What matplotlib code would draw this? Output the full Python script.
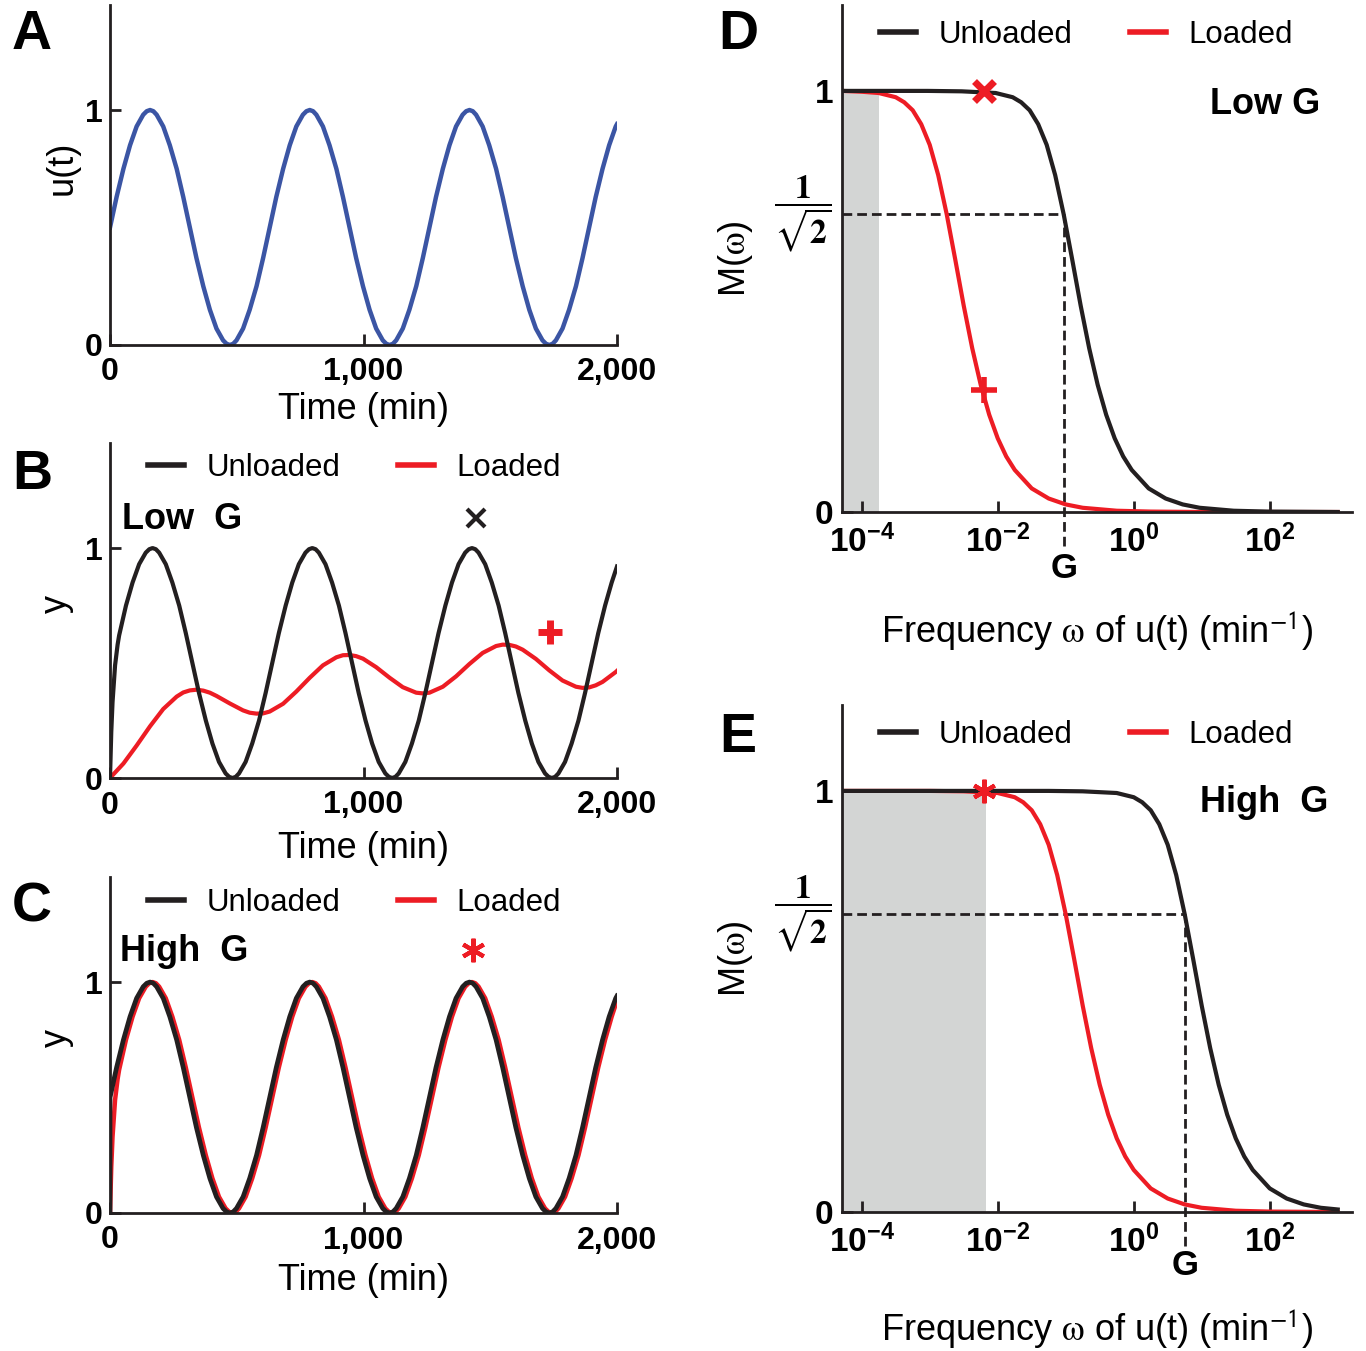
import numpy as np
import matplotlib
matplotlib.use("Agg")
import matplotlib.pyplot as plt

plt.rcParams['font.family'] = ['Liberation Sans', 'DejaVu Sans']
plt.rcParams['mathtext.fontset'] = 'custom'
plt.rcParams['mathtext.rm'] = 'Liberation Sans'
plt.rcParams['mathtext.bf'] = 'Liberation Sans:bold'
plt.rcParams['mathtext.it'] = 'Liberation Sans:italic'
plt.rcParams['mathtext.sf'] = 'Liberation Sans'

# ---- data ----
# A: input u(t)
t_u = [0, 26, 53, 79, 105, 131, 145, 158, 171, 184, 210, 236, 263, 289,
       315, 341, 368, 394, 420, 446, 460, 473, 486, 499, 525, 551, 578, 604,
       630, 656, 683, 709, 735, 761, 775, 788, 801, 814, 840, 866, 893, 919,
       945, 971, 998, 1024, 1050, 1076, 1090, 1103, 1116, 1129, 1155, 1181, 1208, 1234,
       1260, 1286, 1313, 1339, 1365, 1391, 1405, 1418, 1431, 1444, 1470, 1496, 1523, 1549,
       1575, 1601, 1628, 1654, 1680, 1706, 1720, 1733, 1746, 1759, 1785, 1811, 1838, 1864,
       1890, 1916, 1943, 1969, 1995, 2000]
u_vals = [0.50, 0.63, 0.75, 0.85, 0.93, 0.98, 0.995, 1.00, 0.995, 0.98, 0.93, 0.85, 0.75, 0.63,
          0.50, 0.37, 0.25, 0.15, 0.07, 0.02, 0.005, 0.00, 0.005, 0.02, 0.07, 0.15, 0.25, 0.37,
          0.50, 0.63, 0.75, 0.85, 0.93, 0.98, 0.995, 1.00, 0.995, 0.98, 0.93, 0.85, 0.75, 0.63,
          0.50, 0.37, 0.25, 0.15, 0.07, 0.02, 0.005, 0.00, 0.005, 0.02, 0.07, 0.15, 0.25, 0.37,
          0.50, 0.63, 0.75, 0.85, 0.93, 0.98, 0.995, 1.00, 0.995, 0.98, 0.93, 0.85, 0.75, 0.63,
          0.50, 0.37, 0.25, 0.15, 0.07, 0.02, 0.005, 0.00, 0.005, 0.02, 0.07, 0.15, 0.25, 0.37,
          0.50, 0.63, 0.75, 0.85, 0.93, 0.94]

# B: low G
tB_unloaded = [0, 5, 10, 20, 30,
               36, 63, 89, 115, 141, 155, 168, 181, 194, 220, 246, 273, 299,
               325, 351, 378, 404, 430, 456, 470, 483, 496, 509, 535, 561, 588, 614,
               640, 666, 693, 719, 745, 771, 785, 798, 811, 824, 850, 876, 903, 929,
               955, 981, 1008, 1034, 1060, 1086, 1100, 1113, 1126, 1139, 1165, 1191, 1218, 1244,
               1270, 1296, 1323, 1349, 1375, 1401, 1415, 1428, 1441, 1454, 1480, 1506, 1533, 1559,
               1585, 1611, 1638, 1664, 1690, 1716, 1730, 1743, 1756, 1769, 1795, 1821, 1848, 1874,
               1900, 1926, 1953, 1979, 2000]
yB_unloaded = [0.00, 0.20, 0.33, 0.49, 0.58,
               0.62, 0.75, 0.85, 0.93, 0.98, 0.995, 1.00, 0.995, 0.98, 0.93, 0.85, 0.75, 0.63,
               0.50, 0.37, 0.25, 0.15, 0.07, 0.02, 0.005, 0.00, 0.005, 0.02, 0.07, 0.15, 0.25, 0.37,
               0.50, 0.63, 0.75, 0.85, 0.93, 0.98, 0.995, 1.00, 0.995, 0.98, 0.93, 0.85, 0.75, 0.63,
               0.50, 0.37, 0.25, 0.15, 0.07, 0.02, 0.005, 0.00, 0.005, 0.02, 0.07, 0.15, 0.25, 0.37,
               0.50, 0.63, 0.75, 0.85, 0.93, 0.98, 0.995, 1.00, 0.995, 0.98, 0.93, 0.85, 0.75, 0.63,
               0.50, 0.37, 0.25, 0.15, 0.07, 0.02, 0.005, 0.00, 0.005, 0.02, 0.07, 0.15, 0.25, 0.37,
               0.50, 0.63, 0.75, 0.85, 0.92]
tB_loaded = [0, 53, 105, 158, 210, 263, 289, 315, 341, 368, 394, 420,
             473, 525, 551, 578, 604, 630, 683, 735, 788, 840, 893, 919,
             945, 971, 998, 1050, 1103, 1155, 1208, 1234, 1260, 1313, 1365, 1418,
             1470, 1523, 1549, 1575, 1601, 1628, 1680, 1733, 1785, 1838, 1864, 1890,
             1916, 1943, 1995, 2000]
yB_loaded = [0.000, 0.063, 0.141, 0.225, 0.300, 0.354, 0.372, 0.381, 0.384, 0.380, 0.371, 0.357,
             0.324, 0.294, 0.284, 0.280, 0.281, 0.289, 0.323, 0.376, 0.436, 0.490, 0.525, 0.534,
             0.535, 0.530, 0.519, 0.482, 0.436, 0.395, 0.371, 0.368, 0.371, 0.397, 0.442, 0.496,
             0.544, 0.574, 0.580, 0.579, 0.572, 0.558, 0.518, 0.468, 0.424, 0.397, 0.392, 0.394,
             0.403, 0.418, 0.461, 0.466]

# C: high G (unloaded jumps from 0 onto u(t); loaded trace lags like B's unloaded one)
tC_unloaded = [0] + t_u
yC_unloaded = [0.0] + u_vals
tC_loaded = list(tB_unloaded)
yC_loaded = list(yB_unloaded)

# D / E: magnitude of frequency response, log10(omega)
logw_D_unloaded = [-4.29, -3.03, -2.53, -2.03, -1.78, -1.655, -1.53, -1.405, -1.28, -1.155,
                   -1.03, -0.905, -0.78, -0.655, -0.53, -0.405, -0.28, -0.155, -0.03, 0.22,
                   0.47, 0.72, 0.97, 1.47, 1.97, 3.0]
M_D_unloaded = [1.0, 1.0, 0.999, 0.995, 0.985, 0.973, 0.954, 0.921, 0.872, 0.800,
                0.707, 0.600, 0.490, 0.389, 0.302, 0.231, 0.175, 0.132, 0.100, 0.056,
                0.032, 0.018, 0.010, 0.003, 0.001, 0.0]
logw_D_loaded = [-4.29, -4.0, -3.75, -3.5, -3.375, -3.25, -3.125, -3.0, -2.875, -2.75,
                 -2.625, -2.5, -2.375, -2.25, -2.125, -2.0, -1.875, -1.75, -1.5, -1.25,
                 -1.0, -0.75, -0.25, 0.25, 1.0, 3.0]
M_D_loaded = [1.0, 0.998, 0.995, 0.985, 0.973, 0.954, 0.921, 0.872, 0.800, 0.707,
              0.600, 0.490, 0.389, 0.302, 0.231, 0.175, 0.132, 0.100, 0.056, 0.032,
              0.018, 0.010, 0.003, 0.001, 0.0, 0.0]
logw_E_unloaded = [-4.29, -1.25, -0.75, -0.25, 0.0, 0.125, 0.25, 0.375, 0.5, 0.625,
                   0.75, 0.875, 1.0, 1.125, 1.25, 1.375, 1.5, 1.625, 1.75, 2.0,
                   2.25, 2.5, 2.75, 3.0]
M_E_unloaded = [1.0, 1.0, 0.999, 0.995, 0.985, 0.973, 0.954, 0.921, 0.872, 0.800,
                0.707, 0.600, 0.490, 0.389, 0.302, 0.231, 0.175, 0.132, 0.100, 0.056,
                0.032, 0.018, 0.010, 0.006]
logw_E_loaded = [-4.29, -3.0, -2.5, -2.0, -1.75, -1.625, -1.5, -1.375, -1.25, -1.125,
                 -1.0, -0.875, -0.75, -0.625, -0.5, -0.375, -0.25, -0.125, 0.0, 0.25,
                 0.5, 0.75, 1.0, 1.5, 2.0, 3.0]
M_E_loaded = [1.0, 1.0, 0.999, 0.995, 0.985, 0.973, 0.954, 0.921, 0.872, 0.800,
              0.707, 0.600, 0.490, 0.389, 0.302, 0.231, 0.175, 0.132, 0.100, 0.056,
              0.032, 0.018, 0.010, 0.003, 0.001, 0.0]

G_low = 10 ** -1.03
G_high = 10 ** 0.75
shade_D = 10 ** -3.75
shade_E = 10 ** -2.17
w_mark = 10 ** -2.2
W_MIN, W_MAX = 10 ** -4.29, 10 ** 3.21
INV_SQRT2 = 1 / np.sqrt(2)

BLACK = '#231f20'
RED = '#ed1c24'
BLUE = '#3b55a4'
GRAY = '#d3d5d4'

W, H = 1366, 1351
fig = plt.figure(figsize=(W / 100, H / 100), dpi=100)


def px_axes(left, top, right, bottom):
    return fig.add_axes([left / W, 1 - bottom / H, (right - left) / W, (bottom - top) / H])


def clean_spines(ax):
    for s in ['top', 'right']:
        ax.spines[s].set_visible(False)
    for s in ['left', 'bottom']:
        ax.spines[s].set_linewidth(2)
        ax.spines[s].set_color(BLACK)


def style_time(ax, ymax, ylabel, ylab_x, xlab_y):
    ax.set_xlim(0, 2000)
    ax.set_ylim(0, ymax)
    ax.set_xticks([0, 1000, 2000], ['0', '1,000', '2,000'], fontsize=23, fontweight='bold')
    ax.set_yticks([0, 1], ['0', '1'], fontsize=23, fontweight='bold')
    ax.tick_params(axis='both', direction='in', length=8, width=2, color=BLACK)
    ax.tick_params(axis='x', pad=9)
    ax.tick_params(axis='y', pad=5)
    clean_spines(ax)
    ax.set_xlabel('Time (min)', fontsize=26, va='center')
    ax.xaxis.set_label_coords(0.5, xlab_y)
    ax.set_ylabel(ylabel, fontsize=26, va='center')
    ax.yaxis.set_label_coords(ylab_x, 0.52)


def style_freq(ax):
    ax.set_xscale('log')
    ax.set_xlim(W_MIN, W_MAX)
    ax.set_ylim(0, 1.204)
    ax.set_xticks([1e-4, 1e-2, 1e0, 1e2],
                  [r'$\mathbf{10^{-4}}$', r'$\mathbf{10^{-2}}$', r'$\mathbf{10^{0}}$', r'$\mathbf{10^{2}}$'],
                  fontsize=24)
    ax.minorticks_off()
    ax.set_yticks([0, 1], ['0', '1'], fontsize=24, fontweight='bold')
    ax.tick_params(axis='both', direction='in', length=8, width=2, color=BLACK)
    ax.tick_params(axis='x', pad=9)
    ax.tick_params(axis='y', pad=6)
    clean_spines(ax)
    ax.text(-0.02, INV_SQRT2, r'$\dfrac{\mathbf{1}}{\sqrt{\mathbf{2}}}$', transform=ax.get_yaxis_transform(),
            ha='right', va='center', fontsize=24, math_fontfamily='stix')
    ax.set_xlabel(r'Frequency $\mathrm{\omega}$ of u(t) (min$^{\mathsf{-1}}$)', fontsize=26,
                  va='center', math_fontfamily='stix')
    ax.set_ylabel(r'M($\mathrm{\omega}$)', fontsize=26, va='center', math_fontfamily='stix')
    ax.yaxis.set_label_coords(-0.208, 0.5)


def add_legend(ax, h_un, h_lo, xfrac, yfrac):
    leg = ax.legend([h_un, h_lo], ['Unloaded', 'Loaded'], ncol=2, loc='center left',
                    bbox_to_anchor=(xfrac, yfrac), frameon=False, fontsize=22.5,
                    handlelength=1.15, handletextpad=0.72, columnspacing=1.85,
                    borderpad=0, borderaxespad=0)
    for ln in leg.get_lines():
        ln.set_linewidth(4)


axA = px_axes(110, 5, 617, 345)
axB = px_axes(110, 443, 617, 778)
axC = px_axes(110, 877, 617, 1213)
axD = px_axes(842, 5, 1352, 512)
axE = px_axes(842, 705, 1352, 1212)

# A
axA.plot(t_u, u_vals, color=BLUE, lw=3.2)
style_time(axA, 1.447, 'u(t)', -0.095, -0.191)

# B
lo_B, = axB.plot(tB_loaded, yB_loaded, color=RED, lw=3, zorder=2)
un_B, = axB.plot(tB_unloaded, yB_unloaded, color=BLACK, lw=3, zorder=3)
axB.plot([1443], [1.13], marker='x', color=BLACK, ms=13, mew=3, clip_on=False)
axB.plot([1735], [0.635], marker='+', color=RED, ms=17, mew=5)
axB.text(48, 1.085, 'Low  G', fontsize=26, fontweight='bold', ha='left', va='baseline')
style_time(axB, 1.457, 'y', -0.105, -0.209)
add_legend(axB, un_B, lo_B, 0.075, 0.925)

# C
lo_C, = axC.plot(tC_loaded, yC_loaded, color=RED, lw=3.2, zorder=2)
un_C, = axC.plot(tC_unloaded, yC_unloaded, color=BLACK, lw=3.4, zorder=3)
axC.plot([1431], [1.14], marker=(6, 2, 0), color=RED, ms=17, mew=3)
axC.text(39, 1.09, 'High  G', fontsize=26, fontweight='bold', ha='left', va='baseline')
style_time(axC, 1.455, 'y', -0.105, -0.202)
add_legend(axC, un_C, lo_C, 0.075, 0.923)

# D
dash = (0, (3.5, 1.8))
axD.fill_between([W_MIN, shade_D], 0, 1, color=GRAY, lw=0, zorder=0.5)
axD.hlines(INV_SQRT2, W_MIN, G_low, colors=BLACK, lw=2, linestyles=dash, zorder=1)
axD.vlines(G_low, -0.08, INV_SQRT2, colors=BLACK, lw=2, linestyles=dash, zorder=1, clip_on=False)
lo_D, = axD.plot(10 ** np.array(logw_D_loaded), M_D_loaded, color=RED, lw=3, zorder=2)
un_D, = axD.plot(10 ** np.array(logw_D_unloaded), M_D_unloaded, color=BLACK, lw=3, zorder=3)
axD.plot([w_mark], [1.0], marker='x', color=RED, ms=14, mew=5, zorder=4)
axD.plot([w_mark], [0.29], marker='+', color=RED, ms=19, mew=4, zorder=4)
axD.text(G_low, -0.133, 'G', fontsize=25, fontweight='bold', ha='center', va='center')
axD.text(0.937, 0.945, 'Low G', transform=axD.get_yaxis_transform(), fontsize=26,
         fontweight='bold', ha='right', va='baseline')
style_freq(axD)
axD.xaxis.set_label_coords(0.5, -0.233)
add_legend(axD, un_D, lo_D, 0.0745, 0.941)

# E
axE.fill_between([W_MIN, shade_E], 0, 1, color=GRAY, lw=0, zorder=0.5)
axE.hlines(INV_SQRT2, W_MIN, G_high, colors=BLACK, lw=2, linestyles=dash, zorder=1)
axE.vlines(G_high, -0.08, INV_SQRT2, colors=BLACK, lw=2, linestyles=dash, zorder=1, clip_on=False)
lo_E, = axE.plot(10 ** np.array(logw_E_loaded), M_E_loaded, color=RED, lw=3, zorder=2)
un_E, = axE.plot(10 ** np.array(logw_E_unloaded), M_E_unloaded, color=BLACK, lw=3, zorder=3)
axE.plot([w_mark], [1.0], marker=(6, 2, 0), color=RED, ms=17, mew=3, zorder=4)
axE.text(G_high, -0.128, 'G', fontsize=25, fontweight='bold', ha='center', va='center')
axE.text(0.953, 0.95, 'High  G', transform=axE.get_yaxis_transform(), fontsize=26,
         fontweight='bold', ha='right', va='baseline')
style_freq(axE)
axE.xaxis.set_label_coords(0.5, -0.229)
add_legend(axE, un_E, lo_E, 0.0745, 0.941)

# panel letters
for letter, x, y in [('A', 32, 35), ('B', 32, 475), ('C', 32, 908), ('D', 738, 35), ('E', 738, 738)]:
    fig.text(x / W, 1 - y / H, letter, fontsize=40, fontweight='bold', ha='center', va='center')

fig.savefig('out.png', dpi=100, facecolor='white')
